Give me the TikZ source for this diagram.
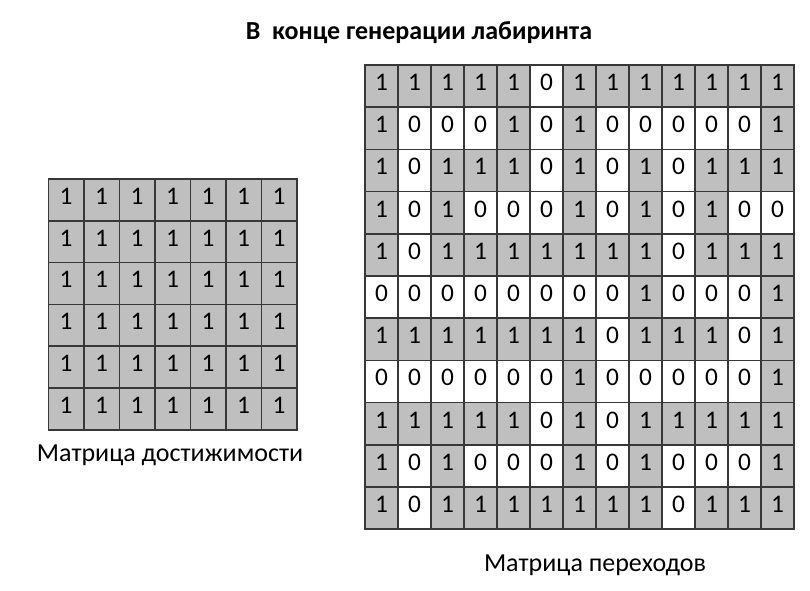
\documentclass[tikz,border=0pt]{standalone}
\usepackage{fontspec}
\setmainfont{Carlito}
\usetikzlibrary{positioning}

\tikzset{
  cell/.style={draw=black!78, line width=1.1pt, inner sep=0pt,
               text height=1.35ex, text depth=0pt,
               font=\fontsize{19}{22}\selectfont},
  cell1/.style={cell, fill=black!25},
  cell0/.style={cell, fill=white},
  bigcell/.style={minimum width=24.75pt, minimum height=31.65pt},
  smallcell/.style={minimum width=26.6pt, minimum height=31.4pt},
  caption/.style={font=\fontsize{19.5}{22}\selectfont},
}

\begin{document}
\begin{tikzpicture}[x=0.75pt, y=-0.75pt]
  \useasboundingbox (0,0) rectangle (810,590);
  % Title
  \node[font=\bfseries\fontsize{19.5}{22}\selectfont] (title) at (419,33)
    {В~ конце генерации лабиринта};
  % Reachability matrix (all ones)
  \foreach \r in {1,...,6}{
    \foreach \c in {1,...,7}{
      \node[cell1, smallcell] (s-\r-\c) at (48.3+35.5*\c-17.75, 179+41.8*\r-20.9) {1};
    }
  }
  \node[caption] (reachlbl) at (170,455) {Матрица достижимости};
  % Transition matrix
  \foreach \row [count=\r] in {
      {1,1,1,1,1,0,1,1,1,1,1,1,1},
      {1,0,0,0,1,0,1,0,0,0,0,0,1},
      {1,0,1,1,1,0,1,0,1,0,1,1,1},
      {1,0,1,0,0,0,1,0,1,0,1,0,0},
      {1,0,1,1,1,1,1,1,1,0,1,1,1},
      {0,0,0,0,0,0,0,0,1,0,0,0,1},
      {1,1,1,1,1,1,1,0,1,1,1,0,1},
      {0,0,0,0,0,0,1,0,0,0,0,0,1},
      {1,1,1,1,1,0,1,0,1,1,1,1,1},
      {1,0,1,0,0,0,1,0,1,0,0,0,1},
      {1,0,1,1,1,1,1,1,1,0,1,1,1}}{
    \foreach \v [count=\c] in \row{
      \node[cell\v, bigcell] (t-\r-\c) at (365+33*\c-16.5, 65+42.2*\r-21.1) {\v};
    }
  }
  \node[caption] (translbl) at (595,565) {Матрица переходов};
\end{tikzpicture}
\end{document}
